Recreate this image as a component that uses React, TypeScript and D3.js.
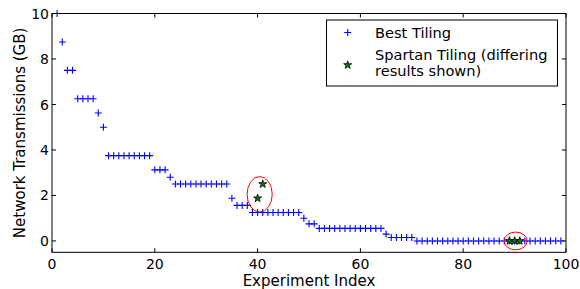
import React, { useRef, useEffect } from 'react';
import * as d3 from 'd3';

// experiment index 1..99, network transmissions in GB
const bestTiling: number[] = [
  10, 8.75, 7.5, 7.5, 6.25, 6.25, 6.25, 6.25, 5.625, 5.0,
  3.75, 3.75, 3.75, 3.75, 3.75, 3.75, 3.75, 3.75, 3.75, 3.125,
  3.125, 3.125, 2.8, 2.5, 2.5, 2.5, 2.5, 2.5, 2.5, 2.5,
  2.5, 2.5, 2.5, 2.5, 1.875, 1.5625, 1.5625, 1.5625, 1.25, 1.25,
  1.25, 1.25, 1.25, 1.25, 1.25, 1.25, 1.25, 1.25, 1.0, 0.75,
  0.75, 0.55, 0.55, 0.55, 0.55, 0.55, 0.55, 0.55, 0.55, 0.55,
  0.55, 0.55, 0.55, 0.55, 0.3, 0.15, 0.15, 0.15, 0.15, 0.15,
  0, 0, 0, 0, 0, 0, 0, 0, 0, 0,
  0, 0, 0, 0, 0, 0, 0, 0, 0, 0,
  0, 0, 0, 0, 0, 0, 0, 0, 0,
];

// only the experiments where spartan tiling differs
const spartanIdx: number[] = [40, 41, 89, 90, 91];
const spartanVal: number[] = [1.875, 2.5, 0, 0, 0];

// red circles drawn around the differing results (data units)
const highlights = [
  { cx: 40.4, cy: 2.05, w: 4.9, h: 1.56 },
  { cx: 90.2, cy: 0.0, w: 4.5, h: 0.78 },
];

const xTicks = [0, 20, 40, 60, 80, 100];
const yTicks = [0, 2, 4, 6, 8, 10];

const W = 580;
const H = 289;
const FONT = 'DejaVu Sans, sans-serif';

const Chart: React.FC = () => {
  const svgRef = useRef<SVGSVGElement | null>(null);

  useEffect(() => {
    if (!svgRef.current) return;
    const svg = d3.select(svgRef.current);
    svg.selectAll('*').remove();

    const left = 52, right = 566, top = 13.5, bottom = 252.3;
    const x = d3.scaleLinear().domain([0, 100]).range([left, right]);
    const y = d3.scaleLinear().domain([-0.5, 10]).range([bottom, top]);

    svg.append('rect').attr('width', W).attr('height', H).attr('fill', '#fff');

    const plot = svg.append('g');

    // best tiling markers
    const plus = 'M-3.5,0H3.5M0,-3.5V3.5';
    plot.selectAll('path.best')
      .data(bestTiling)
      .enter()
      .append('path')
      .attr('class', 'best')
      .attr('d', plus)
      .attr('transform', (d, i) => `translate(${x(i + 1)},${y(d)})`)
      .attr('stroke', '#0000ff')
      .attr('stroke-width', 1.1)
      .attr('fill', 'none');

    const star = d3.symbol().type(d3.symbolStar).size(20)();
    plot.selectAll('path.spartan')
      .data(spartanIdx)
      .enter()
      .append('path')
      .attr('class', 'spartan')
      .attr('d', star)
      .attr('transform', (d, i) => `translate(${x(d)},${y(spartanVal[i])})`)
      .attr('fill', '#008000')
      .attr('stroke', '#000')
      .attr('stroke-width', 0.8);

    plot.selectAll('ellipse')
      .data(highlights)
      .enter()
      .append('ellipse')
      .attr('cx', d => x(d.cx))
      .attr('cy', d => y(d.cy))
      .attr('rx', d => (x(d.w) - x(0)) / 2)
      .attr('ry', d => (y(0) - y(d.h)) / 2)
      .attr('fill', 'none')
      .attr('stroke', '#ff0000')
      .attr('stroke-width', 1);

    // frame
    svg.append('rect')
      .attr('x', left).attr('y', top)
      .attr('width', right - left).attr('height', bottom - top)
      .attr('fill', 'none').attr('stroke', '#000').attr('stroke-width', 1);

    // ticks, inward on all sides
    const tl = 4;
    xTicks.forEach(t => {
      svg.append('line').attr('x1', x(t)).attr('x2', x(t)).attr('y1', bottom).attr('y2', bottom - tl).attr('stroke', '#000');
      svg.append('line').attr('x1', x(t)).attr('x2', x(t)).attr('y1', top).attr('y2', top + tl).attr('stroke', '#000');
      svg.append('text')
        .attr('x', x(t)).attr('y', bottom + 17)
        .attr('text-anchor', 'middle')
        .attr('font-family', FONT).attr('font-size', 14)
        .text(t);
    });
    yTicks.forEach(t => {
      svg.append('line').attr('x1', left).attr('x2', left + tl).attr('y1', y(t)).attr('y2', y(t)).attr('stroke', '#000');
      svg.append('line').attr('x1', right).attr('x2', right - tl).attr('y1', y(t)).attr('y2', y(t)).attr('stroke', '#000');
      svg.append('text')
        .attr('x', left - 3).attr('y', y(t))
        .attr('dy', '0.36em')
        .attr('text-anchor', 'end')
        .attr('font-family', FONT).attr('font-size', 14)
        .text(t);
    });

    svg.append('text')
      .attr('x', (left + right) / 2).attr('y', 286)
      .attr('text-anchor', 'middle')
      .attr('font-family', FONT).attr('font-size', 15)
      .text('Experiment Index');

    svg.append('text')
      .attr('transform', `translate(25,${(top + bottom) / 2}) rotate(-90)`)
      .attr('text-anchor', 'middle')
      .attr('font-family', FONT).attr('font-size', 15)
      .text('Network Transmissions (GB)');

    // legend
    const lg = svg.append('g');
    lg.append('rect')
      .attr('x', 326.5).attr('y', 20)
      .attr('width', 231).attr('height', 66)
      .attr('fill', '#fff').attr('stroke', '#000').attr('stroke-width', 1);
    lg.append('path')
      .attr('d', plus)
      .attr('transform', 'translate(347.7,32.5)')
      .attr('stroke', '#0000ff').attr('stroke-width', 1.1).attr('fill', 'none');
    lg.append('path')
      .attr('d', star)
      .attr('transform', 'translate(347.7,65)')
      .attr('fill', '#008000').attr('stroke', '#000').attr('stroke-width', 0.8);
    const legendText = [
      { t: 'Best Tiling', yy: 38 },
      { t: 'Spartan Tiling (differing', yy: 59.5 },
      { t: 'results shown)', yy: 76 },
    ];
    lg.selectAll('text')
      .data(legendText)
      .enter()
      .append('text')
      .attr('x', 375).attr('y', d => d.yy)
      .attr('font-family', FONT).attr('font-size', 14.6)
      .text(d => d.t);
  }, []);

  return (
    <svg
      ref={svgRef}
      width={W}
      height={H}
      style={{ position: 'absolute', left: 0, top: 0, display: 'block' }}
    />
  );
};

export default function App() {
  return <Chart />;
}
